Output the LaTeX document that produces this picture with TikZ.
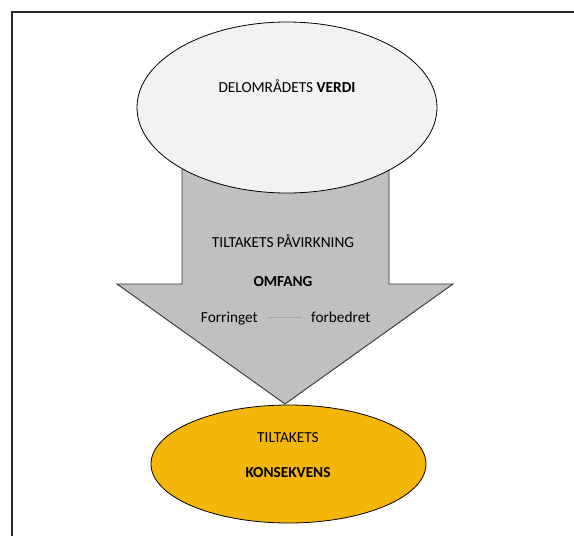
\documentclass[tikz,border=0pt]{standalone}
\usepackage{fontspec}
\setmainfont{Carlito}
\usetikzlibrary{shapes.geometric}
\definecolor{arrowgray}{RGB}{192,192,192}
\definecolor{topfill}{RGB}{242,242,242}
\definecolor{orangefill}{RGB}{244,182,8}
\tikzset{
  lbl/.style={inner sep=0pt, anchor=base, font=\fontsize{15.3}{17}\selectfont, text=black},
  blbl/.style={lbl, font=\fontsize{15.3}{17}\selectfont\bfseries},
  oval/.style={ellipse, draw=black, line width=0.8pt, inner sep=0pt}
}
\begin{document}
\begin{tikzpicture}[x=1pt,y=-1pt]
\useasboundingbox (0,0) rectangle (574,536);
\fill[white] (0,0) rectangle (574,536);
% frame
\draw[line width=2.2pt, black!85] (12,536) -- (12,12) -- (574,12);
% arrow
\node[draw=none, inner sep=0pt] (tip) at (285,404) {};
\draw[fill=arrowgray, draw=black!80, line width=0.9pt]
  (182,150) -- (182,284) -- (117,284) -- (tip.center) -- (453,284) -- (389,284) -- (389,150);
% top ellipse
\node[oval, fill=topfill, minimum width=300, minimum height=171] (top) at (287,107.5) {};
\node[lbl] (verdi) at (287,92) {DELOMRÅDETS \textbf{VERDI}};
% arrow texts
\node[lbl] (pav) at (283,247) {TILTAKETS PÅVIRKNING};
\node[blbl] (omf) at (283,286) {OMFANG};
\node[lbl, anchor=base east] (forr) at (258,322) {Forringet};
\node[lbl, anchor=base west] (forb) at (311,322) {forbedret};
\draw[black!35, line width=0.8pt, shorten <=10pt, shorten >=9pt]
  ([yshift=5pt]forr.base east) -- ([yshift=5pt]forb.base west);
% bottom ellipse
\node[oval, fill=orangefill, minimum width=275, minimum height=118] (kons) at (288.5,464) {};
\node[lbl] (tilt) at (288,442) {TILTAKETS};
\node[blbl] (konsek) at (288,477) {KONSEKVENS};
\end{tikzpicture}
\end{document}
